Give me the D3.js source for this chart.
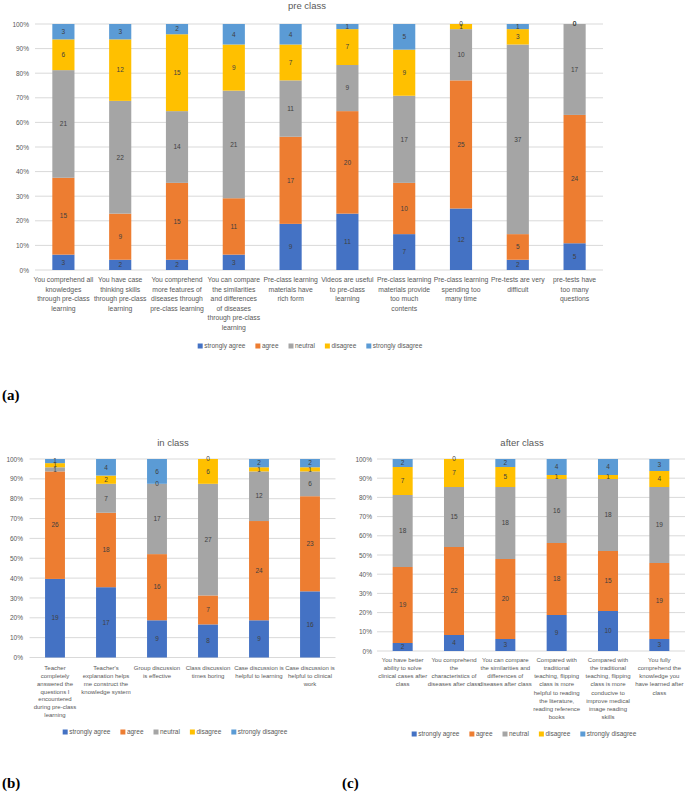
<!DOCTYPE html>
<html>
<head>
<meta charset="utf-8">
<script src="https://cdn.jsdelivr.net/npm/d3@7"></script>
<style>
  body { margin: 0; background: #fff; }
  text { font-family: "Liberation Sans", Arial, sans-serif; }
</style>
</head>
<body>
<script>
// Likert answers, stacked to 100%

var levels = ["strongly agree", "agree", "neutral", "disagree", "strongly disagree"];
var colors = ["#4472C4", "#ED7D31", "#A5A5A5", "#FFC000", "#5B9BD5"];
var tickLabels = ["0%", "10%", "20%", "30%", "40%", "50%", "60%", "70%", "80%", "90%", "100%"];

// (a) pre class
var preCats = [
  "You comprehend all\nknowledges\nthrough pre-class\nlearning",
  "You have case\nthinking skills\nthrough pre-class\nlearning",
  "You comprehend\nmore features of\ndiseases through\npre-class learning",
  "You can compare\nthe similarities\nand differences\nof diseases\nthrough pre-class\nlearning",
  "Pre-class learning\nmaterials have\nrich form",
  "Videos are useful\nto pre-class\nlearning",
  "Pre-class learning\nmaterials provide\ntoo much\ncontents",
  "Pre-class learning\nspending too\nmany time",
  "Pre-tests are very\ndifficult",
  "pre-tests have\ntoo many\nquestions"
];
var preStronglyAgree    = [3, 2, 2, 3, 9, 11, 7, 12, 2, 5];
var preAgree            = [15, 9, 15, 11, 17, 20, 10, 25, 5, 24];
var preNeutral          = [21, 22, 14, 21, 11, 9, 17, 10, 37, 17];
var preDisagree         = [6, 12, 15, 9, 7, 7, 9, 1, 3, 0];
var preStronglyDisagree = [3, 3, 2, 4, 4, 1, 5, 0, 1, 0];

// (b) in class
var inCats = [
  "Teacher\ncompletely\nanswered the\nquestions I\nencountered\nduring pre-class\nlearning",
  "Teacher's\nexplanation helps\nme construct the\nknowledge system",
  "Group discussion\nis effective",
  "Class discussion\ntimes boring",
  "Case discussion is\nhelpful to learning",
  "Case discussion is\nhelpful to clinical\nwork"
];
var inStronglyAgree    = [19, 17, 9, 8, 9, 16];
var inAgree            = [26, 18, 16, 7, 24, 23];
var inNeutral          = [1, 7, 17, 27, 12, 6];
var inDisagree         = [1, 2, 0, 6, 1, 1];
var inStronglyDisagree = [1, 4, 6, 0, 2, 2];

// (c) after class
var afterCats = [
  "You have better\nability to solve\nclinical cases after\nclass",
  "You comprehend\nthe\ncharacteristics of\ndiseases after class",
  "You can compare\nthe similarities and\ndifferences of\ndiseases after class",
  "Compared with\ntraditional\nteaching, flipping\nclass is more\nhelpful to reading\nthe literature,\nreading reference\nbooks",
  "Compared with\nthe traditional\nteaching, flipping\nclass is more\nconducive to\nimprove medical\nimage reading\nskills",
  "You fully\ncomprehend the\nknowledge you\nhave learned after\nclass"
];
var afterStronglyAgree    = [2, 4, 3, 9, 10, 3];
var afterAgree            = [19, 22, 20, 18, 15, 19];
var afterNeutral          = [18, 15, 18, 16, 18, 19];
var afterDisagree         = [7, 7, 5, 1, 1, 4];
var afterStronglyDisagree = [2, 0, 2, 4, 4, 3];

var width = 685, height = 792;

var svg = d3.select("body").append("svg")
  .attr("width", width)
  .attr("height", height);

function drawPanel(p) {
  var g = svg.append("g");

  // rows for d3.stack
  var rows = p.cats.map(function(c, i) {
    var r = { cat: c };
    levels.forEach(function(l, k) { r[l] = p.series[k][i]; });
    return r;
  });
  var stacked = d3.stack().keys(levels).offset(d3.stackOffsetExpand)(rows);

  var x = d3.scaleBand().domain(p.cats).range(p.xr).paddingInner(0.61).paddingOuter(0.305);
  var y = d3.scaleLinear().domain([0, 1]).range(p.yr);

  // gridlines
  g.selectAll("line.grid")
    .data(d3.range(0, 11).map(function(v) { return v / 10; }))
    .enter().append("line")
    .attr("x1", p.xr[0]).attr("x2", p.xr[1])
    .attr("y1", function(d) { return y(d); })
    .attr("y2", function(d) { return y(d); })
    .style("stroke", "#d9d9d9")
    .style("stroke-width", 1);

  // y axis labels
  var yAxis = d3.axisLeft(y)
    .tickValues(d3.range(0, 11).map(function(v) { return v / 10; }))
    .tickFormat(function(d, i) { return tickLabels[i]; })
    .tickSize(0)
    .tickPadding(0);
  var ya = g.append("g")
    .attr("transform", "translate(" + p.yLabelX + ",0)")
    .call(yAxis);
  ya.select(".domain").remove();
  ya.selectAll("text")
    .style("font-size", "6.5px")
    .style("fill", "#595959")
    .style("font-family", "Liberation Sans, Arial, sans-serif");

  // bars
  var layer = g.selectAll("g.layer")
    .data(stacked)
    .enter().append("g")
    .style("fill", function(d, i) { return colors[i]; });

  layer.selectAll("rect")
    .data(function(d) { return d; })
    .enter().append("rect")
    .attr("x", function(d) { return x(d.data.cat); })
    .attr("width", x.bandwidth())
    .attr("y", function(d) { return y(d[1]); })
    .attr("height", function(d) { return Math.max(0, y(d[0]) - y(d[1])); });

  // value labels
  stacked.forEach(function(s, k) {
    g.selectAll(null)
      .data(s)
      .enter().append("text")
      .attr("x", function(d) { return x(d.data.cat) + x.bandwidth() / 2; })
      .attr("y", function(d) { return (y(d[0]) + y(d[1])) / 2; })
      .attr("dy", "0.35em")
      .attr("text-anchor", "middle")
      .style("font-size", "6.5px")
      .style("fill", "#404040")
      .text(function(d) { return d.data[levels[k]]; });
  });

  // category labels, broken where the original breaks them
  p.cats.forEach(function(c) {
    var t = g.append("text")
      .attr("text-anchor", "middle")
      .style("font-size", p.catFont + "px")
      .style("fill", "#595959");
    c.split("\n").forEach(function(line, i) {
      t.append("tspan")
        .attr("x", x(c) + x.bandwidth() / 2)
        .attr("y", p.catY + i * p.catLine)
        .attr("dy", "0.35em")
        .text(line);
    });
  });

  // title
  g.append("text")
    .attr("x", p.titleX)
    .attr("y", p.titleY)
    .attr("dy", "0.35em")
    .attr("text-anchor", "middle")
    .style("font-size", "9.5px")
    .style("fill", "#595959")
    .text(p.title);

  // legend
  var lg = g.append("g");
  var cx = 0;
  levels.forEach(function(l, i) {
    lg.append("rect")
      .attr("x", cx).attr("y", -2.5)
      .attr("width", 5).attr("height", 5)
      .style("fill", colors[i]);
    var t = lg.append("text")
      .attr("x", cx + 6.5)
      .attr("dy", "0.35em")
      .style("font-size", "6.5px")
      .style("fill", "#595959")
      .text(l);
    cx += 6.5 + t.node().getComputedTextLength() + 10;
  });
  cx -= 10;
  lg.attr("transform", "translate(" + (p.legendX - cx / 2) + "," + p.legendY + ")");

  // panel letter
  g.append("text")
    .attr("x", p.letterX)
    .attr("y", p.letterY)
    .attr("dy", "0.35em")
    .style("font-family", "Liberation Serif, serif")
    .style("font-weight", "bold")
    .style("font-size", "15px")
    .style("fill", "#000")
    .text(p.letter);
}

drawPanel({
  title: "pre class", cats: preCats,
  series: [preStronglyAgree, preAgree, preNeutral, preDisagree, preStronglyDisagree],
  xr: [35, 603], yr: [270, 24], yLabelX: 29,
  titleX: 307, titleY: 6,
  catY: 280, catLine: 9.5, catFont: 6.8,
  legendX: 310, legendY: 346,
  letter: "(a)", letterX: 2, letterY: 395
});

drawPanel({
  title: "in class", cats: inCats,
  series: [inStronglyAgree, inAgree, inNeutral, inDisagree, inStronglyDisagree],
  xr: [29.5, 335.5], yr: [657.5, 459], yLabelX: 23,
  titleX: 173, titleY: 443,
  catY: 668, catLine: 7.8, catFont: 6,
  legendX: 175, legendY: 732,
  letter: "(b)", letterX: 2, letterY: 783
});

drawPanel({
  title: "after class", cats: afterCats,
  series: [afterStronglyAgree, afterAgree, afterNeutral, afterDisagree, afterStronglyDisagree],
  xr: [377, 685], yr: [651, 459], yLabelX: 372,
  titleX: 522, titleY: 443,
  catY: 660, catLine: 8.1, catFont: 6,
  legendX: 524, legendY: 734,
  letter: "(c)", letterX: 342, letterY: 783
});
</script>
</body>
</html>
